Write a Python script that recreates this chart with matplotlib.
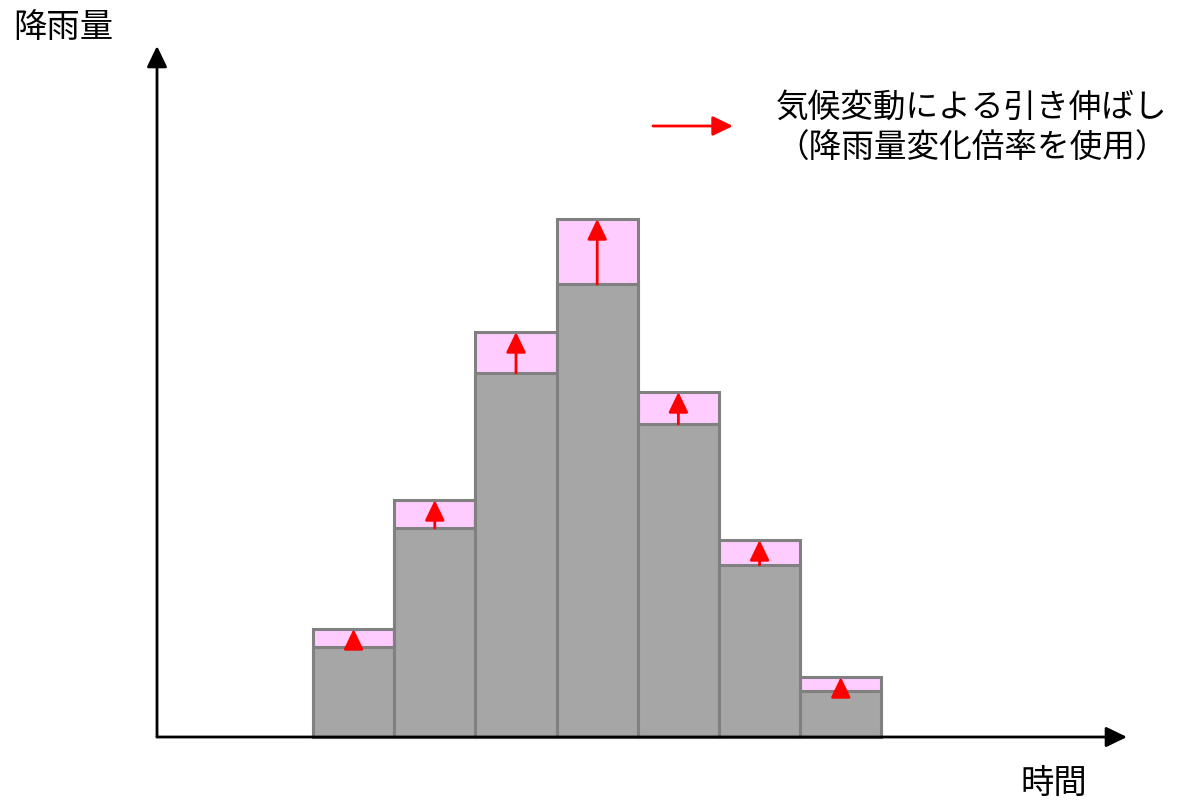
import matplotlib.pyplot as plt
import numpy as np

plt.rcParams['font.family'] = ['Noto Sans CJK JP', 'DejaVu Sans']

# rainfall per time step (arbitrary units), before and after climate scaling
time_steps = np.arange(7)
rain_base = [90, 209, 364, 453, 313, 172, 46]
rain_scaled = [108, 237, 405, 518, 345, 197, 60]

y_label = '降雨量'
x_label = '時間'
legend_text = '気候変動による引き伸ばし\n（降雨量変化倍率を使用）'

fig = plt.figure(figsize=(11.8, 8.03), dpi=100)
ax = fig.add_axes([0, 0, 1, 1])
# one time step = 81.2 px, first bar starts 313 px from the left
step = 81.2
x0 = 313
ax.set_xlim(-x0 / step, (1180 - x0) / step)
ax.set_ylim(-65, 738)
ax.axis('off')

left = time_steps
ax.bar(left, rain_scaled, width=1, align='edge', color='#FFCCFF',
       edgecolor='#808080', linewidth=2.2, zorder=2)
ax.bar(left, rain_base, width=1, align='edge', color='#A6A6A6',
       edgecolor='#808080', linewidth=2.2, zorder=3)

red_head = '-|>,head_length=0.56,head_width=0.27'
for t, b, s in zip(left, rain_base, rain_scaled):
    ax.annotate('', xy=(t + 0.5, s), xytext=(t + 0.5, b),
                arrowprops=dict(arrowstyle=red_head, mutation_scale=22,
                                color='red', lw=2, shrinkA=0, shrinkB=0),
                zorder=4)

# axes drawn as arrows
xa = (157 - x0) / step
xe = (1127 - x0) / step
black_head = '-|>,head_length=0.58,head_width=0.28'
ax.annotate('', xy=(xa, 738 - 47), xytext=(xa, 0),
            arrowprops=dict(arrowstyle=black_head, mutation_scale=22,
                            color='black', lw=2, shrinkA=0, shrinkB=0), zorder=5)
ax.annotate('', xy=(xe, 0), xytext=(xa, 0),
            arrowprops=dict(arrowstyle=black_head, mutation_scale=22,
                            color='black', lw=2, shrinkA=0, shrinkB=0), zorder=5)

ax.text((13 - x0) / step, 738 - 28, y_label, fontsize=24, va='center', ha='left')
ax.text((1020 - x0) / step, 738 - 783, x_label, fontsize=24, va='center', ha='left')

# legend
ax.annotate('', xy=((733 - x0) / step, 738 - 127), xytext=((653 - x0) / step, 738 - 127),
            arrowprops=dict(arrowstyle=red_head, mutation_scale=22,
                            color='red', lw=2, shrinkA=0, shrinkB=0))
ax.text((776 - x0) / step, 738 - 128, legend_text, fontsize=23.5, va='center',
        ha='left', linespacing=1.35)

fig.savefig('out.png', dpi=100)
